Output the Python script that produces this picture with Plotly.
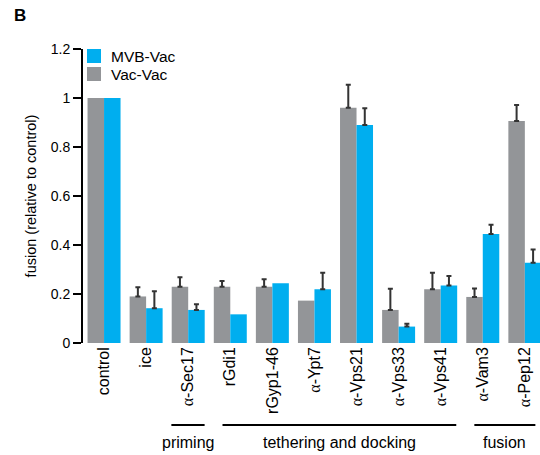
import plotly.graph_objects as go

categories = ["control", "ice", "α-Sec17", "rGdi1", "rGyp1-46", "α-Ypt7",
              "α-Vps21", "α-Vps33", "α-Vps41", "α-Vam3", "α-Pep12"]
vac_vac = [1.0, 0.19, 0.23, 0.23, 0.23, 0.173, 0.96, 0.135, 0.219, 0.188, 0.906]
vac_vac_err = [None, 0.038, 0.038, 0.023, 0.03, None, 0.094, 0.086, 0.068, 0.034, 0.065]
mvb_vac = [1.0, 0.142, 0.135, 0.117, 0.244, 0.219, 0.89, 0.067, 0.235, 0.445, 0.328]
mvb_vac_err = [None, 0.069, 0.023, None, None, 0.068, 0.068, 0.012, 0.038, 0.038, 0.054]
y_ticks = [0, 0.2, 0.4, 0.6, 0.8, 1, 1.2]
y_tick_labels = ["0", "0.2", "0.4", "0.6", "0.8", "1", "1.2"]

# group brackets (start, end in category units) and labels
groups = [("priming", 1.60, 2.39), ("tethering and docking", 2.815, 8.37), ("fusion", 8.80, 10.25)]
legend_items = [("MVB-Vac", "#00AEEF"), ("Vac-Vac", "#939598")]

FONT = "Liberation Sans, Arial, Helvetica, sans-serif"
GRAY = "#939598"
BLUE = "#00AEEF"
ERR = "#333333"

# layout geometry (pixels)
W, H = 540, 455
ML, MT, MB = 83, 49, 112
PH = H - MT - MB
PW = W - ML


def py(pix):
    """pixel y (from top) -> paper y"""
    return (H - MB - pix) / PH


def px(pix):
    return (pix - ML) / PW


def fmt(label):
    if label.startswith("α"):
        return "<span style=\"font-family:'Liberation Serif'\">α</span>" + label[1:]
    return label


def errs_plus(vals):
    # missing error bars -> NaN so plotly skips them
    return ["NaN" if v is None else v for v in vals]


def errs_minus(vals):
    return ["NaN" if v is None else 0 for v in vals]


xs = list(range(len(categories)))
ticktext = [fmt(c) for c in categories]

fig = go.Figure()
fig.add_trace(go.Bar(
    x=xs, y=vac_vac, name="Vac-Vac", marker=dict(color=GRAY, line=dict(width=0)),
    error_y=dict(type="data", symmetric=False, array=errs_plus(vac_vac_err),
                 arrayminus=errs_minus(vac_vac_err), color=ERR, thickness=2, width=2.5),
))
fig.add_trace(go.Bar(
    x=xs, y=mvb_vac, name="MVB-Vac", marker=dict(color=BLUE, line=dict(width=0)),
    error_y=dict(type="data", symmetric=False, array=errs_plus(mvb_vac_err),
                 arrayminus=errs_minus(mvb_vac_err), color=ERR, thickness=2, width=2.5),
))

shapes = []
annotations = []
for name, x0, x1 in groups:
    shapes.append(dict(type="line", xref="x", yref="paper", x0=x0, x1=x1,
                       y0=py(425), y1=py(425), line=dict(color="black", width=2)))
    annotations.append(dict(text=name, xref="x", yref="paper", x=(x0 + x1) / 2,
                            y=py(442), showarrow=False, yanchor="middle",
                            font=dict(size=16, color="black", family=FONT)))

# legend drawn as squares + labels
for i, (name, col) in enumerate(legend_items):
    top = 49 + i * 18
    shapes.append(dict(type="rect", xref="paper", yref="paper",
                       x0=px(87), x1=px(101), y0=py(top + 14), y1=py(top),
                       fillcolor=col, line=dict(width=0)))
    annotations.append(dict(text=name, xref="paper", yref="paper", x=px(109), y=py(top + 7),
                            xanchor="left", yanchor="middle", showarrow=False,
                            font=dict(size=15.5, color="black", family=FONT)))

annotations.append(dict(text="<b>B</b>", xref="paper", yref="paper", x=px(12), y=py(16),
                        xanchor="left", yanchor="middle", showarrow=False,
                        font=dict(size=17, color="black", family=FONT)))

fig.update_layout(
    width=W, height=H,
    margin=dict(l=ML, r=0, t=MT, b=MB, autoexpand=False),
    paper_bgcolor="white", plot_bgcolor="white",
    barmode="group", bargap=0.216, bargroupgap=0,
    font=dict(family=FONT, size=14, color="black"),
    showlegend=False,
    shapes=shapes,
    annotations=annotations,
)
fig.update_xaxes(
    range=[-0.5, 10.36], tickmode="array", tickvals=xs, ticktext=ticktext,
    tickangle=-90, showline=False, showgrid=False, zeroline=False, ticks="",
    tickfont=dict(size=16, color="black"), fixedrange=True, automargin=False,
)
fig.update_yaxes(
    range=[0, 1.2], tickmode="array", tickvals=y_ticks, ticktext=y_tick_labels,
    showline=True, linecolor="black", linewidth=2, ticks="outside", ticklen=8,
    tickwidth=2, tickcolor="black", showgrid=False, zeroline=False,
    title=dict(text="fusion (relative to control)", font=dict(size=14.5), standoff=11),
    tickfont=dict(size=14, color="black"), automargin=False, fixedrange=True,
)

fig.write_html("out.html", config={"displayModeBar": False},
               post_script="document.body.style.margin='0';document.body.style.overflow='hidden';")
